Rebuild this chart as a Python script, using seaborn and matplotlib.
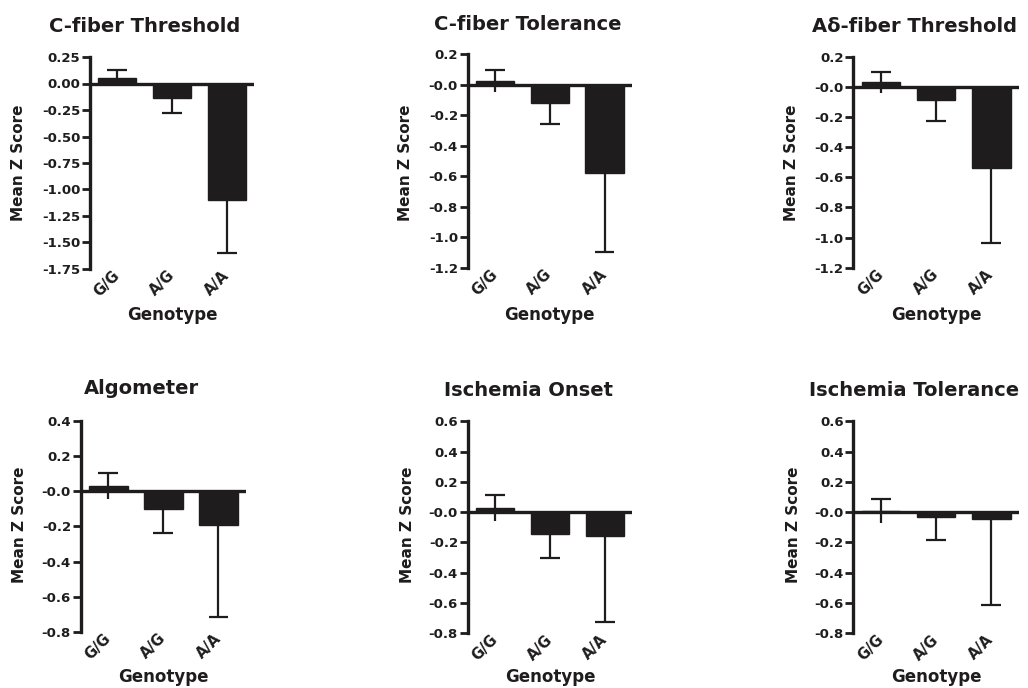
import matplotlib
matplotlib.use("Agg")
import matplotlib.pyplot as plt
import matplotlib.transforms as mtransforms
import seaborn as sns
import pandas as pd

sns.set_style("ticks")
plt.rcParams['font.family'] = ['DejaVu Sans']
plt.rcParams['font.weight'] = 'bold'

genotypes = ["G/G", "A/G", "A/A"]

titles = ["C-fiber Threshold", "C-fiber Tolerance", "A\u03b4-fiber Threshold",
          "Algometer", "Ischemia Onset", "Ischemia Tolerance"]

means_c_thresh = [0.055, -0.14, -1.10]
sems_c_thresh = [0.07, 0.14, 0.50]
means_c_tol = [0.025, -0.12, -0.58]
sems_c_tol = [0.075, 0.14, 0.52]
means_ad_thresh = [0.03, -0.09, -0.54]
sems_ad_thresh = [0.07, 0.135, 0.495]
means_algo = [0.03, -0.10, -0.19]
sems_algo = [0.075, 0.14, 0.525]
means_isch_onset = [0.028, -0.147, -0.158]
sems_isch_onset = [0.084, 0.153, 0.57]
means_isch_tol = [0.008, -0.03, -0.044]
sems_isch_tol = [0.08, 0.155, 0.572]

yticks_c_thresh = [0.25, 0.0, -0.25, -0.5, -0.75, -1.0, -1.25, -1.5, -1.75]
ylabels_c_thresh = ["0.25", "0.00", "-0.25", "-0.50", "-0.75", "-1.00", "-1.25", "-1.50", "-1.75"]
yticks_fiber = [0.2, 0.0, -0.2, -0.4, -0.6, -0.8, -1.0, -1.2]
ylabels_fiber = ["0.2", "-0.0", "-0.2", "-0.4", "-0.6", "-0.8", "-1.0", "-1.2"]
yticks_algo = [0.4, 0.2, 0.0, -0.2, -0.4, -0.6, -0.8]
ylabels_algo = ["0.4", "0.2", "-0.0", "-0.2", "-0.4", "-0.6", "-0.8"]
yticks_isch = [0.6, 0.4, 0.2, 0.0, -0.2, -0.4, -0.6, -0.8]
ylabels_isch = ["0.6", "0.4", "0.2", "-0.0", "-0.2", "-0.4", "-0.6", "-0.8"]

panels = [
    (means_c_thresh, sems_c_thresh, yticks_c_thresh, ylabels_c_thresh),
    (means_c_tol, sems_c_tol, yticks_fiber, ylabels_fiber),
    (means_ad_thresh, sems_ad_thresh, yticks_fiber, ylabels_fiber),
    (means_algo, sems_algo, yticks_algo, ylabels_algo),
    (means_isch_onset, sems_isch_onset, yticks_isch, ylabels_isch),
    (means_isch_tol, sems_isch_tol, yticks_isch, ylabels_isch),
]

W, H = 1028, 688
# axes boxes in pixels: left, right, top, bottom
boxes = [
    (90, 254, 57, 269),
    (467.7, 632, 54.3, 267.7),
    (853.3, 1019, 56.7, 267.7),
    (80.7, 246, 420.7, 632),
    (467.7, 632.3, 421.3, 633.3),
    (853.3, 1019, 421.3, 633.3),
]
title_pos = [(145, 27), (528, 25), (914, 26), (141, 389), (528, 391), (914.5, 391)]
ylab_pos = [(19, 163), (405, 163), (792, 163), (20, 525), (407, 525), (793, 525)]
xlab_y = [315, 315, 315, 677, 677, 677]

ink = "#1e1c1d"

fig = plt.figure(figsize=(W / 100, H / 100), dpi=100)

for i, (means, sems, yt, yl) in enumerate(panels):
    l, r, t, b = boxes[i]
    ax = fig.add_axes([l / W, 1 - b / H, (r - l) / W, (b - t) / H])
    df = pd.DataFrame({"Genotype": genotypes, "Mean": means})
    sns.barplot(data=df, x="Genotype", y="Mean", color=ink, width=0.7,
                saturation=1, errorbar=None, ax=ax, zorder=2)
    for p in ax.patches:
        p.set_edgecolor(ink)
    # error bars (line through mean +/- sem, cap on outer side only)
    for j, (m, s) in enumerate(zip(means, sems)):
        if m >= 0:
            lo, hi, cap = m - s, m + s, m + s
        else:
            lo, hi, cap = m - s, m, m - s
        ax.vlines(j, lo, hi, color=ink, lw=1.6, zorder=3)
        ax.hlines(cap, j - 0.18, j + 0.18, color=ink, lw=1.6, zorder=3)
    ax.axhline(0, color=ink, lw=2.4, zorder=4)
    ax.set_xlim(-0.5, 2.5)
    ax.set_ylim(min(yt), max(yt))
    ax.set_yticks(yt)
    ax.set_yticklabels(yl, fontsize=9.5, fontweight='bold', color=ink)
    ax.set_xticks(range(len(genotypes)))
    ax.set_xticklabels(genotypes, fontsize=10.5, fontweight='bold', color=ink,
                       rotation=45, ha='right', va='center', rotation_mode='anchor')
    shift = mtransforms.ScaledTranslation(2 / 100, 0, fig.dpi_scale_trans)
    for lab in ax.get_xticklabels():
        lab.set_transform(lab.get_transform() + shift)
    ax.tick_params(axis='x', length=0, pad=3)
    ax.tick_params(axis='y', length=6, width=2, color=ink, pad=1, direction='out')
    for sp in ["top", "right", "bottom"]:
        ax.spines[sp].set_visible(False)
    ax.spines["left"].set_linewidth(2.4)
    ax.spines["left"].set_color(ink)
    ax.set_xlabel("")
    ax.set_ylabel("")
    ax.set_facecolor("white")

    tx, ty = title_pos[i]
    fig.text(tx / W, 1 - ty / H, titles[i], ha='center', va='center',
             fontsize=14, fontweight='bold', color=ink)
    yx, yy = ylab_pos[i]
    fig.text(yx / W, 1 - yy / H, "Mean Z Score", ha='center', va='center',
             rotation=90, fontsize=11, fontweight='bold', color=ink)
    fig.text(((l + r) / 2) / W, 1 - xlab_y[i] / H, "Genotype", ha='center',
             va='center', fontsize=12, fontweight='bold', color=ink)

fig.savefig("out.png", dpi=100, facecolor="white")
